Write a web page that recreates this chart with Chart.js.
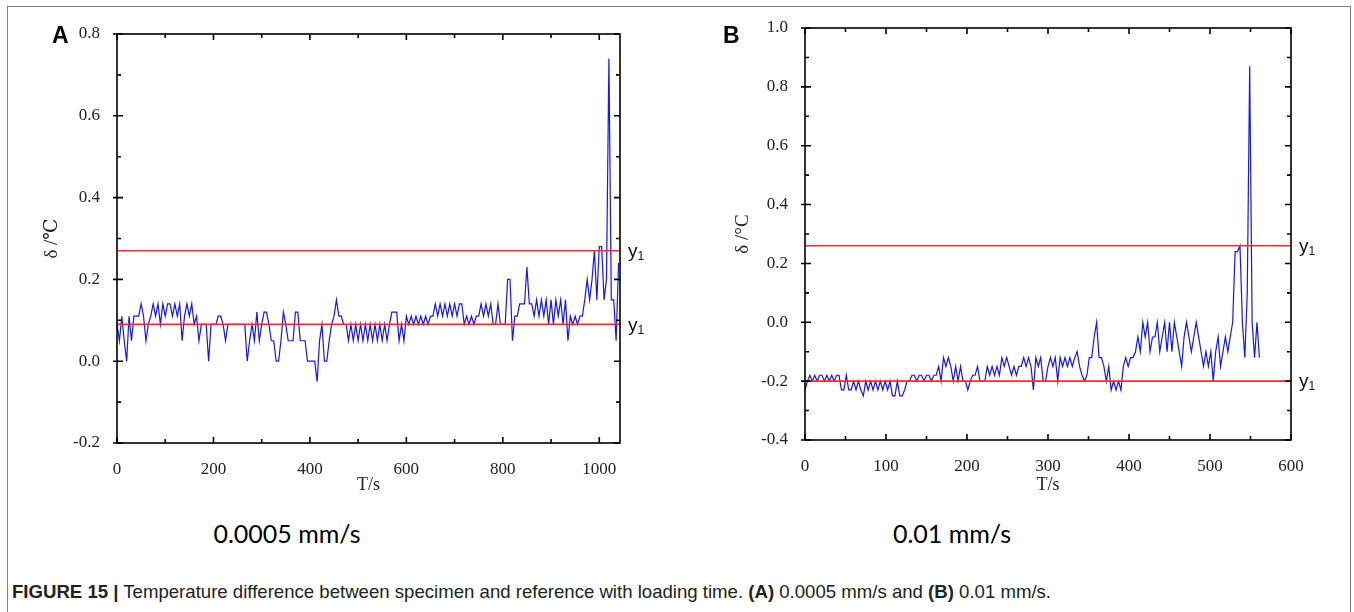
<!DOCTYPE html>
<html>
<head>
<meta charset="utf-8">
<script src="https://cdn.jsdelivr.net/npm/chart.js@4.4.0/dist/chart.umd.min.js"></script>
<style>
  body { margin: 0; background: #fff; width: 1354px; height: 612px; overflow: hidden; position: relative; }
  .frame { position: absolute; left: 7px; top: 6px; width: 1342px; height: 640px; border: 1.5px solid #808080; border-bottom: none; }
  #wrapA { position: absolute; left: 0; top: 0; }
  #wrapB { position: absolute; left: 690px; top: 0; }
  .panel { position: absolute; top: 22px; font: bold 23px "Liberation Sans", Arial, sans-serif; color: #000; }
  .speed { position: absolute; top: 518px; font: 25px Lato, sans-serif; transform: translateX(-50%); white-space: nowrap; color: #000; }
  .caption { position: absolute; left: 12px; top: 581px; font: 18.6px "Liberation Sans", sans-serif; white-space: nowrap; color: #222; }
</style>
</head>
<body>
<div class="frame"></div>
<div id="wrapA"><canvas id="chartA" width="680" height="500"></canvas></div>
<div id="wrapB"><canvas id="chartB" width="664" height="500"></canvas></div>
<div class="panel" style="left:52px">A</div>
<div class="panel" style="left:723px">B</div>
<div class="speed" style="left:287px">0.0005 mm/s</div>
<div class="speed" style="left:952px">0.01 mm/s</div>
<div class="caption"><b>FIGURE 15 |</b> Temperature difference between specimen and reference with loading time. <b>(A)</b> 0.0005 mm/s and <b>(B)</b> 0.01 mm/s.</div>

<script>
// ---- data ----

// (A) 0.0005 mm/s, sampled every 5 s
var stepA = 5;
var deltaA = [
  0.09, 0.05, 0.11, 0.05, 0.00, 0.11, 0.05, 0.11, 0.11, 0.11,
  0.14, 0.11, 0.05, 0.09, 0.11, 0.14, 0.11, 0.14, 0.09, 0.14,
  0.11, 0.14, 0.14, 0.11, 0.14, 0.11, 0.14, 0.05, 0.11, 0.14,
  0.11, 0.14, 0.09, 0.11, 0.05, 0.09, 0.09, 0.09, 0.00, 0.09,
  0.09, 0.09, 0.11, 0.11, 0.09, 0.05, 0.09, 0.09, 0.09, 0.09,
  0.09, 0.09, 0.09, 0.09, 0.00, 0.05, 0.09, 0.05, 0.12, 0.05,
  0.09, 0.12, 0.12, 0.09, 0.05, 0.05, 0.00, 0.00, 0.05, 0.12,
  0.09, 0.05, 0.05, 0.05, 0.12, 0.12, 0.05, 0.05, 0.05, 0.00,
  0.00, 0.00, 0.00, -0.05, 0.05, 0.09, 0.00, 0.00, 0.05, 0.09,
  0.11, 0.15, 0.11, 0.11, 0.09, 0.09, 0.05, 0.09, 0.05, 0.09,
  0.05, 0.09, 0.05, 0.09, 0.05, 0.09, 0.05, 0.09, 0.05, 0.09,
  0.05, 0.09, 0.05, 0.09, 0.12, 0.12, 0.12, 0.05, 0.09, 0.05,
  0.11, 0.09, 0.11, 0.09, 0.11, 0.09, 0.11, 0.09, 0.11, 0.09,
  0.11, 0.11, 0.14, 0.11, 0.14, 0.11, 0.14, 0.11, 0.14, 0.11,
  0.14, 0.11, 0.14, 0.14, 0.09, 0.11, 0.09, 0.11, 0.09, 0.11,
  0.11, 0.14, 0.11, 0.14, 0.11, 0.14, 0.09, 0.09, 0.14, 0.09,
  0.09, 0.09, 0.20, 0.20, 0.05, 0.11, 0.11, 0.14, 0.14, 0.14,
  0.23, 0.14, 0.14, 0.11, 0.15, 0.11, 0.15, 0.11, 0.15, 0.09,
  0.15, 0.09, 0.15, 0.11, 0.15, 0.09, 0.15, 0.05, 0.11, 0.09,
  0.11, 0.09, 0.11, 0.11, 0.15, 0.20, 0.15, 0.20, 0.27, 0.15,
  0.28, 0.28, 0.15, 0.20, 0.74, 0.15, 0.15, 0.05, 0.24
];
var limitsA = [0.27, 0.09];
var xMaxA = 1043;

// (B) 0.01 mm/s, sampled every 3 s
var stepB = 3;
var deltaB = [
  -0.23, -0.20, -0.18, -0.20, -0.18, -0.20, -0.18, -0.18, -0.20, -0.18,
  -0.20, -0.18, -0.20, -0.18, -0.18, -0.23, -0.23, -0.18, -0.23, -0.23,
  -0.20, -0.23, -0.20, -0.23, -0.25, -0.20, -0.23, -0.20, -0.23, -0.20,
  -0.23, -0.20, -0.23, -0.20, -0.23, -0.20, -0.25, -0.25, -0.20, -0.25,
  -0.25, -0.23, -0.20, -0.20, -0.18, -0.18, -0.20, -0.18, -0.18, -0.20,
  -0.18, -0.18, -0.20, -0.18, -0.18, -0.15, -0.20, -0.12, -0.15, -0.12,
  -0.15, -0.20, -0.15, -0.20, -0.15, -0.20, -0.20, -0.23, -0.20, -0.18,
  -0.18, -0.15, -0.20, -0.20, -0.20, -0.15, -0.18, -0.15, -0.18, -0.15,
  -0.18, -0.12, -0.15, -0.12, -0.15, -0.18, -0.15, -0.18, -0.15, -0.15,
  -0.12, -0.15, -0.12, -0.15, -0.23, -0.12, -0.15, -0.12, -0.20, -0.20,
  -0.15, -0.12, -0.15, -0.12, -0.20, -0.12, -0.15, -0.12, -0.15, -0.12,
  -0.15, -0.12, -0.10, -0.15, -0.18, -0.20, -0.18, -0.12, -0.12, -0.05,
  0.00, -0.12, -0.12, -0.15, -0.20, -0.15, -0.23, -0.20, -0.23, -0.20,
  -0.23, -0.15, -0.12, -0.15, -0.12, -0.12, -0.10, -0.05, -0.10, 0.00,
  -0.05, 0.00, -0.10, -0.05, -0.05, 0.00, -0.10, -0.05, 0.00, -0.10,
  0.00, -0.10, 0.00, -0.05, -0.10, -0.15, -0.05, 0.00, -0.05, -0.10,
  -0.05, 0.00, -0.05, -0.10, -0.15, -0.10, -0.15, -0.10, -0.20, -0.10,
  -0.05, -0.15, -0.10, -0.05, -0.10, -0.05, 0.00, 0.24, 0.24, 0.26,
  0.00, -0.12, 0.10, 0.87, 0.00, -0.12, 0.00, -0.12
];
var limitsB = [0.26, -0.20];
var xMaxB = 600;

// ---- helpers ----
function toPoints(values, step) {
  return values.map(function (v, i) { return { x: i * step, y: v }; });
}

function fmtY(v) {
  var k = Math.round(v * 10);
  if (k % 2 !== 0) return '';
  return (k === 0 ? 0 : k / 10).toFixed(1);
}

// box frame with inner ticks on four sides, plus the y1 labels
var framePlugin = {
  id: 'frame',
  afterDatasetsDraw: function (chart, args, opts) {
    var ctx = chart.ctx, a = chart.chartArea, x = chart.scales.x, y = chart.scales.y;
    ctx.save();
    ctx.strokeStyle = '#000';
    ctx.lineWidth = 1.6;
    ctx.strokeRect(a.left, a.top, a.right - a.left, a.bottom - a.top);
    ctx.beginPath();
    x.ticks.forEach(function (t) {
      if (t.value % opts.xMinor !== 0) return;
      var len = t.value % opts.xMajor === 0 ? 6 : 4;
      var px = x.getPixelForValue(t.value);
      ctx.moveTo(px, a.bottom); ctx.lineTo(px, a.bottom - len);
      ctx.moveTo(px, a.top); ctx.lineTo(px, a.top + len);
    });
    y.ticks.forEach(function (t) {
      var major = Math.round(t.value * 10) % 2 === 0;
      var len = major ? 6 : 4;
      var py = y.getPixelForValue(t.value);
      ctx.moveTo(a.left - (major ? 4 : 0), py); ctx.lineTo(a.left + len, py);
      ctx.moveTo(a.right, py); ctx.lineTo(a.right - len, py);
    });
    ctx.stroke();

    ctx.fillStyle = '#111';
    ctx.textBaseline = 'middle';
    opts.levels.forEach(function (v) {
      var py = y.getPixelForValue(v) + 1;
      ctx.font = '19px "Liberation Sans", Arial, sans-serif';
      ctx.fillText('y', a.right + 8, py);
      var w = ctx.measureText('y').width;
      ctx.font = '12px "Liberation Sans", Arial, sans-serif';
      ctx.fillText('1', a.right + 8 + w, py + 5);
    });
    ctx.restore();
  }
};

function makeChart(id, values, step, limits, xMax, yMin, yMax, xMinor, xMajor, yTitle, pad, yWidth, xHeight) {
  var ctx = document.getElementById(id).getContext('2d');
  var limitSets = limits.map(function (v) {
    return {
      data: [{ x: 0, y: v }, { x: xMax, y: v }],
      borderColor: '#ff2b2b',
      borderWidth: 1.6,
      pointRadius: 0
    };
  });
  return new Chart(ctx, {
    type: 'line',
    data: {
      datasets: limitSets.concat([{
        data: toPoints(values, step),
        borderColor: '#1414ff',
        borderWidth: 1.2,
        pointRadius: 0,
        tension: 0
      }])
    },
    options: {
      responsive: false,
      animation: false,
      events: [],
      layout: { padding: pad },
      plugins: {
        legend: { display: false },
        tooltip: { enabled: false },
        frame: { levels: limits, xMinor: xMinor, xMajor: xMajor }
      },
      scales: {
        x: {
          type: 'linear',
          min: 0,
          max: xMax,
          grid: { display: false },
          border: { display: false },
          afterFit: function (s) { s.height = xHeight; },
          ticks: {
            stepSize: xMinor,
            includeBounds: false,
            autoSkip: false,
            maxRotation: 0,
            padding: 8,
            color: '#222',
            font: { family: '"Liberation Serif", "DejaVu Serif", serif', size: 17 },
            callback: function (v) { return v % xMajor === 0 ? String(v) : ''; }
          },
          title: {
            display: true,
            text: 'T/s',
            color: '#222',
            font: { family: '"Liberation Serif", "DejaVu Serif", serif', size: 18 }
          }
        },
        y: {
          min: yMin,
          max: yMax,
          grid: { display: false },
          border: { display: false },
          afterFit: function (s) { s.width = yWidth; },
          ticks: {
            stepSize: 0.1,
            autoSkip: false,
            padding: 9,
            color: '#222',
            font: { family: '"Liberation Serif", "DejaVu Serif", serif', size: 17 },
            callback: fmtY
          },
          title: {
            display: true,
            text: yTitle,
            color: '#222',
            font: { family: '"Liberation Serif", "DejaVu Serif", serif', size: 19 }
          }
        }
      }
    },
    plugins: [framePlugin]
  });
}

makeChart('chartA', deltaA, stepA, limitsA, xMaxA, -0.2, 0.8, 100, 200, 'δ /℃',
  { left: 37, right: 60, top: 34, bottom: 0 }, 80, 57);
makeChart('chartB', deltaB, stepB, limitsB, xMaxB, -0.4, 1.0, 50, 100, 'δ /°C',
  { left: 38, right: 63, top: 28, bottom: 0 }, 77, 60);
</script>
</body>
</html>
